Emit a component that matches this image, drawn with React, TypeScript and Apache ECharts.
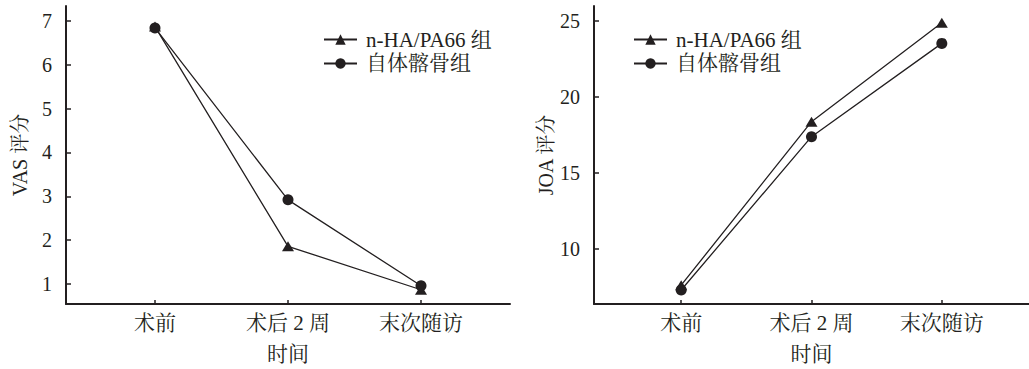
import React, { useEffect, useRef } from "react";
import * as echarts from "echarts";

const categories = ["术前", "术后 2 周", "末次随访"];
const seriesNames = ["n-HA/PA66 组", "自体髂骨组"];
const vasHA = [6.87, 1.86, 0.87];
const vasBone = [6.84, 2.92, 0.96];
const joaHA = [7.6, 18.36, 24.87];
const joaBone = [7.28, 17.37, 23.51];
const vasTicks = [1, 2, 3, 4, 5, 6, 7];
const joaTicks = [10, 15, 20, 25];

const FONT = "'Liberation Serif', 'Noto Serif CJK SC', 'Noto Sans CJK SC', serif";
const INK = "#231f20";

export default function App() {
  const ref = useRef<HTMLDivElement>(null);
  useEffect(() => {
    if (!ref.current) return;
    const chart = echarts.init(ref.current, undefined, { renderer: "svg" });
    const toPts = (arr: number[]) => arr.map((v, i) => [i, v]);
    const xAxisBase = (gridIndex: number) => ({
      type: "value" as const,
      gridIndex,
      min: -0.669,
      max: 2.669,
      splitLine: { show: false },
      axisLine: { show: true, onZero: false, lineStyle: { color: INK, width: 2 } },
      axisTick: { show: true, inside: true, length: 4, customValues: [0, 1, 2], lineStyle: { color: INK, width: 1.5 } },
      axisLabel: {
        customValues: [0, 1, 2],
        formatter: (v: number) => categories[Math.round(v)] ?? "",
        color: INK,
        fontFamily: FONT,
        fontSize: 21,
        margin: 8,
      },
      name: "时间",
      nameLocation: "middle" as const,
      nameGap: 39,
      nameTextStyle: { color: INK, fontFamily: FONT, fontSize: 21 },
    });
    const yAxisBase = (gridIndex: number, min: number, max: number, ticks: number[], name: string) => ({
      type: "value" as const,
      gridIndex,
      min,
      max,
      splitLine: { show: false },
      axisLine: { show: true, onZero: false, lineStyle: { color: INK, width: 2 } },
      axisTick: { show: true, inside: true, length: 5, customValues: ticks, lineStyle: { color: INK, width: 1.5 } },
      axisLabel: {
        customValues: ticks,
        color: INK,
        fontFamily: FONT,
        fontSize: 20,
        margin: 14,
      },
      name,
      nameLocation: "middle" as const,
      nameGap: 36,
      nameTextStyle: { color: INK, fontFamily: FONT, fontSize: 20 },
    });
    const lineSeries = (name: string, data: number[], idx: number, symbol: string, size: number | number[]) => ({
      type: "line" as const,
      name,
      xAxisIndex: idx,
      yAxisIndex: idx,
      data: toPts(data),
      symbol,
      symbolSize: size,
      showSymbol: true,
      lineStyle: { color: INK, width: 1.3 },
      itemStyle: { color: INK },
    });
    const legendBase = (left: number) => ({
      left,
      top: 29,
      padding: 0,
      orient: "vertical" as const,
      itemWidth: 33,
      itemHeight: 13,
      itemGap: 3,
      data: seriesNames,
      textStyle: { color: INK, fontFamily: FONT, fontSize: 21, padding: [0, 0, 0, 4] },
    });
    chart.setOption({
      animation: false,
      grid: [
        { left: 66, top: 6, right: 519, bottom: 65 },
        { left: 594, top: 6, right: 0, bottom: 65 },
      ],
      xAxis: [xAxisBase(0), xAxisBase(1)],
      yAxis: [
        yAxisBase(0, 0.545, 7.34, vasTicks, "VAS 评分"),
        yAxisBase(1, 6.36, 25.97, joaTicks, "JOA 评分"),
      ],
      legend: [legendBase(323), legendBase(633)],
      series: [
        lineSeries(seriesNames[0], vasHA, 0, "triangle", [12, 10]),
        lineSeries(seriesNames[1], vasBone, 0, "circle", 11),
        lineSeries(seriesNames[0], joaHA, 1, "triangle", [12, 10]),
        lineSeries(seriesNames[1], joaBone, 1, "circle", 11),
      ],
    });
    return () => chart.dispose();
  }, []);
  return (
    <div
      ref={ref}
      style={{ position: "fixed", left: 0, top: 0, width: 1029, height: 369, background: "#fff" }}
    />
  );
}
